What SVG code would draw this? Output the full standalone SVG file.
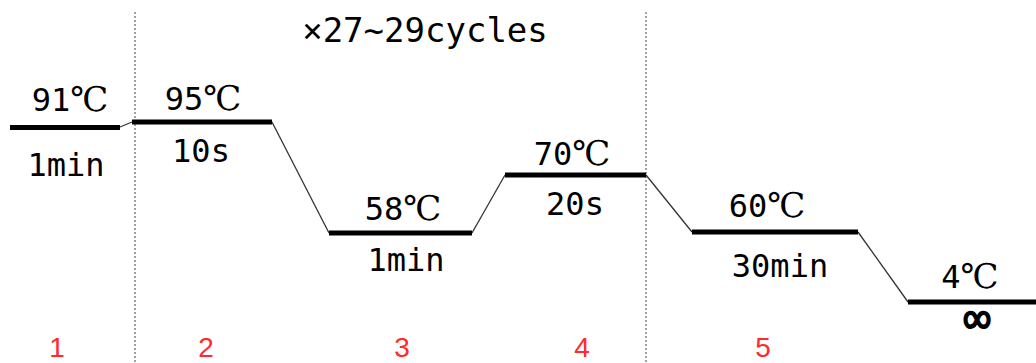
<svg xmlns="http://www.w3.org/2000/svg" width="1036" height="363" viewBox="0 0 1036 363">
<style>
.t{font-family:"DejaVu Sans Mono","Liberation Mono",monospace;font-size:32px;fill:#000;text-anchor:middle}
.c{font-family:"DejaVu Serif","Liberation Serif","Noto Sans CJK SC",serif;font-size:34px}
.n{font-family:"Liberation Sans",Arial,sans-serif;font-size:28px;fill:#ff2a2a;text-anchor:middle}
.plat{stroke:#000;stroke-width:5;fill:none}
.ramp{stroke:#333;stroke-width:1.3;fill:none}
.div{stroke:#444;stroke-width:1;stroke-dasharray:2 2;fill:none}
</style>
<rect width="1036" height="363" fill="#fff"/>
<g id="dividers">
<line class="div" x1="135" y1="12" x2="135" y2="363"/>
<line class="div" x1="646" y1="12" x2="646" y2="363"/>
</g>
<g id="connectors">
<line class="ramp" x1="120" y1="127" x2="132" y2="122"/>
<line class="ramp" x1="272" y1="122" x2="329" y2="233"/>
<line class="ramp" x1="472" y1="233" x2="505" y2="175"/>
<line class="ramp" x1="646" y1="175" x2="692" y2="232"/>
<line class="ramp" x1="858" y1="232" x2="908" y2="302"/>
</g>
<g id="step1">
<line class="plat" x1="10" y1="127.5" x2="120" y2="127.5"/>
<text class="t" x="70" y="111">91<tspan class="c">℃</tspan></text>
<text class="t" x="66" y="176">1min</text>
<text class="n" x="57" y="357">1</text>
</g>
<g id="step2">
<line class="plat" x1="132" y1="122" x2="272" y2="122"/>
<text class="t" x="203" y="110">95<tspan class="c">℃</tspan></text>
<text class="t" x="201" y="162">10s</text>
<text class="n" x="206" y="357">2</text>
</g>
<g id="cycles">
<text class="t" x="425" y="42" style="font-size:34px">×27~29cycles</text>
</g>
<g id="step3">
<line class="plat" x1="329" y1="233" x2="472" y2="233"/>
<text class="t" x="403" y="220">58<tspan class="c">℃</tspan></text>
<text class="t" x="406" y="271">1min</text>
<text class="n" x="402" y="357">3</text>
</g>
<g id="step4">
<line class="plat" x1="505" y1="175" x2="646" y2="175"/>
<text class="t" x="572" y="165">70<tspan class="c">℃</tspan></text>
<text class="t" x="575" y="215">20s</text>
<text class="n" x="582" y="357">4</text>
</g>
<g id="step5">
<line class="plat" x1="692" y1="232" x2="858" y2="232"/>
<text class="t" x="767" y="217">60<tspan class="c">℃</tspan></text>
<text class="t" x="780" y="277">30min</text>
<text class="n" x="763" y="357">5</text>
</g>
<g id="step6">
<line class="plat" x1="908" y1="302" x2="1036" y2="302"/>
<text class="t" x="970" y="288">4<tspan class="c">℃</tspan></text>
<text class="t" x="977" y="334" style="font-weight:bold;font-size:46px">∞</text>
</g>
</svg>
